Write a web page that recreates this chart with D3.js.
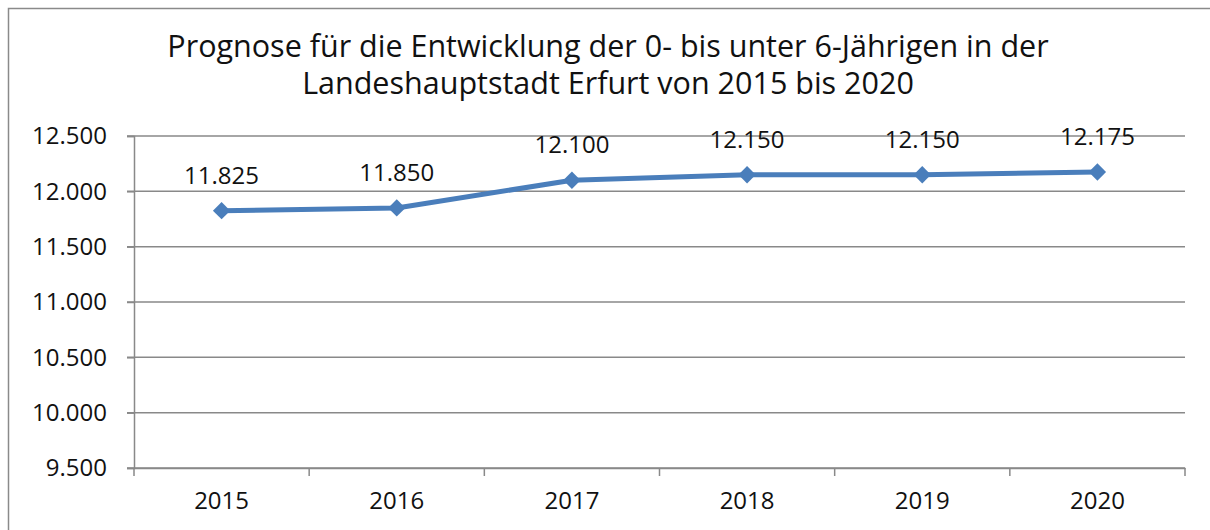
<!DOCTYPE html>
<html>
<head>
<meta charset="utf-8">
<script src="https://cdn.jsdelivr.net/npm/d3@7"></script>
<style>
  body { margin: 0; background: #fff; }
  svg { display: block; }
  svg text { font-family: "Open Sans", "Noto Sans", sans-serif; }
</style>
</head>
<body>
<svg></svg>
<script>
// chart data
var years = ['2015', '2016', '2017', '2018', '2019', '2020'];
var values = [11825, 11850, 12100, 12150, 12150, 12175];
var yTicks = [9500, 10000, 10500, 11000, 11500, 12000, 12500];
var titleLines = ['Prognose für die Entwicklung der 0- bis unter 6-Jährigen in der',
                  'Landeshauptstadt Erfurt von 2015 bis 2020'];

var svgWidth = 1210;
var svgHeight = 530;
var margin = { top: 136, right: 25, bottom: 62, left: 134 };

var fmt = d3.formatLocale({ decimal: ',', thousands: '.', grouping: [3], currency: ['', '€'] }).format(',.0f');

var svg = d3.select('svg')
  .attr('width', svgWidth)
  .attr('height', svgHeight);

// outer frame (runs off the right and bottom edge)
svg.append('rect')
  .attr('x', 8.5).attr('y', 8.5)
  .attr('width', svgWidth + 20).attr('height', svgHeight + 20)
  .attr('fill', 'none')
  .attr('stroke', '#8a8a8a')
  .attr('stroke-width', 1.5);

// title, one text per line
svg.append('g')
  .selectAll('text')
  .data(titleLines)
  .enter().append('text')
    .attr('x', 608)
    .attr('y', (d, i) => 57 + i * 37)
    .attr('text-anchor', 'middle')
    .attr('font-size', 30.5)
    .attr('fill', '#111')
    .text(d => d);

var x = d3.scaleBand()
  .domain(years)
  .range([margin.left, svgWidth - margin.right]);

var y = d3.scaleLinear()
  .domain([9500, 12500])
  .range([svgHeight - margin.bottom, margin.top]);

// gridlines
svg.append('g')
  .selectAll('line')
  .data(yTicks)
  .enter().append('line')
    .attr('x1', margin.left - 7)
    .attr('x2', svgWidth - margin.right)
    .attr('y1', d => y(d))
    .attr('y2', d => y(d))
    .attr('stroke', '#898989')
    .attr('stroke-width', 1.5);

// y axis
var yAxis = g => g
  .attr('transform', 'translate(' + margin.left + ',0)')
  .call(d3.axisLeft(y).tickValues(yTicks).tickFormat(fmt).tickSize(7).tickPadding(20))
  .attr('font-family', null)
  .attr('font-size', 24)
  .call(g => g.selectAll('.domain, line').attr('stroke', '#898989').attr('stroke-width', 1.5))
  .call(g => g.selectAll('text').attr('fill', '#111'));

svg.append('g').call(yAxis);

// x axis with ticks at category boundaries
var xAxis = g => g
  .attr('transform', 'translate(0,' + (svgHeight - margin.bottom) + ')')
  .call(d3.axisBottom(x).tickSize(0).tickPadding(24))
  .attr('font-family', null)
  .attr('font-size', 24)
  .call(g => g.select('.domain').attr('stroke', '#898989').attr('stroke-width', 1.5))
  .call(g => g.selectAll('text').attr('fill', '#111'));

svg.append('g').call(xAxis);

var bounds = years.map(d => x(d)).concat([x.range()[1]]);
svg.append('g')
  .selectAll('line')
  .data(bounds)
  .enter().append('line')
    .attr('x1', d => d).attr('x2', d => d)
    .attr('y1', svgHeight - margin.bottom)
    .attr('y2', svgHeight - margin.bottom + 8)
    .attr('stroke', '#898989')
    .attr('stroke-width', 1.5);

// line
var line = d3.line()
  .x((d, i) => x(years[i]) + x.bandwidth() / 2)
  .y(d => y(d));

svg.append('path')
  .datum(values)
  .attr('fill', 'none')
  .attr('stroke', '#4a7ebb')
  .attr('stroke-width', 5)
  .attr('stroke-linejoin', 'round')
  .attr('d', line);

// diamond markers
svg.append('g')
  .selectAll('path')
  .data(values)
  .enter().append('path')
    .attr('transform', (d, i) => 'translate(' + (x(years[i]) + x.bandwidth() / 2) + ',' + y(d) + ') rotate(45)')
    .attr('d', d3.symbol().type(d3.symbolSquare).size(150))
    .attr('fill', '#4a7ebb');

// data labels
svg.append('g')
  .selectAll('text')
  .data(values)
  .enter().append('text')
    .attr('x', (d, i) => x(years[i]) + x.bandwidth() / 2)
    .attr('y', d => y(d) - 27)
    .attr('text-anchor', 'middle')
    .attr('font-size', 24)
    .attr('fill', '#111')
    .text(d => fmt(d));
</script>
</body>
</html>
